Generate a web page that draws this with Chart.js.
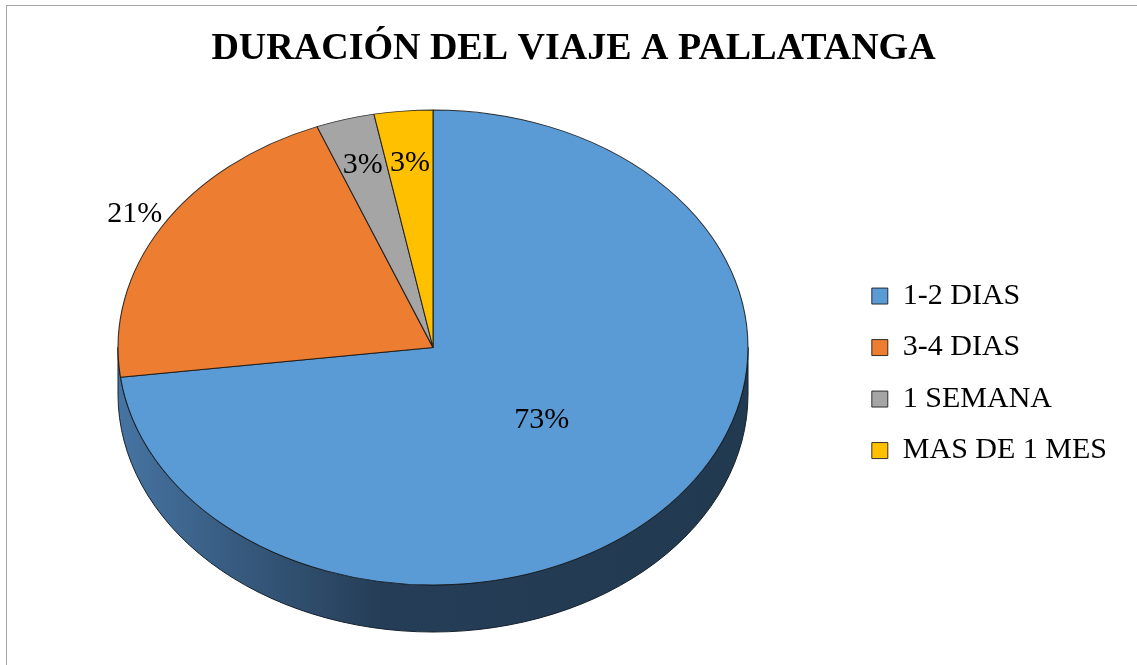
<!DOCTYPE html>
<html><head><meta charset="utf-8">
<script src="https://cdn.jsdelivr.net/npm/chart.js@4"></script>
<style>
html,body{margin:0;padding:0;background:#fff;}
#wrap{position:relative;width:1137px;height:665px;overflow:hidden;background:#fff;}
#frame{position:absolute;left:6px;top:5px;width:1300px;height:900px;border:1px solid #a6a6a6;box-sizing:border-box;}
#c{position:absolute;left:0;top:0;}
</style></head><body>
<div id="wrap"><div id="frame"></div><canvas id="c" width="1137" height="665"></canvas></div>
<script>
const categories = ['1-2 DIAS', '3-4 DIAS', '1 SEMANA', 'MAS DE 1 MES'];
const percentages = [73, 21, 3, 3];
const sliceColors = ['#5B9BD5', '#ED7D31', '#A5A5A5', '#FFC000'];
const chartTitle = 'DURACIÓN DEL VIAJE A PALLATANGA';

// presentation of the tilted (3D-looking) pie
const ELL = {cx: 433, cy: 347.5, rx: 315, ry: 237.5, depth: 47};
const labelRadius = [0.46, 1.1, 0.8, 0.78];
const SERIF = "'Liberation Serif', 'Times New Roman', serif";

const pie3d = {
  id: 'pie3d',
  beforeDatasetsDraw(chart) {
    const ctx = chart.ctx;
    const el = chart.getDatasetMeta(0).data[0];
    const r = el.outerRadius;
    const sx = ELL.rx / r, sy = ELL.ry / r;
    ctx.save();
    const g = ctx.createLinearGradient(ELL.cx - ELL.rx, 0, ELL.cx + ELL.rx, 0);
    g.addColorStop(0, '#4674a2');
    g.addColorStop(0.2, '#36597d');
    g.addColorStop(0.42, '#253d56');
    g.addColorStop(1, '#223a50');
    ctx.beginPath();
    ctx.ellipse(ELL.cx, ELL.cy, ELL.rx, ELL.ry, 0, 0, Math.PI);
    ctx.ellipse(ELL.cx, ELL.cy + ELL.depth, ELL.rx, ELL.ry, 0, Math.PI, 0, true);
    ctx.closePath();
    ctx.fillStyle = g;
    ctx.fill();
    ctx.strokeStyle = '#15212d';
    ctx.lineWidth = 1;
    ctx.stroke();
    ctx.restore();
    ctx.save();
    ctx.translate(ELL.cx, ELL.cy);
    ctx.scale(sx, sy);
    ctx.translate(-el.x, -el.y);
  },
  afterDatasetsDraw(chart) {
    const ctx = chart.ctx;
    ctx.restore();
    const meta = chart.getDatasetMeta(0);
    const data = chart.data.datasets[0].data;
    const total = data.reduce((a, b) => a + b, 0);
    ctx.save();
    ctx.font = '30px ' + SERIF;
    ctx.fillStyle = '#000';
    ctx.textAlign = 'center';
    ctx.textBaseline = 'middle';
    meta.data.forEach((el, i) => {
      const mid = (el.startAngle + el.endAngle) / 2;
      const f = labelRadius[i];
      const tx = ELL.cx + Math.cos(mid) * ELL.rx * f;
      const ty = ELL.cy + Math.sin(mid) * ELL.ry * f;
      ctx.fillText(Math.round(data[i] / total * 100) + '%', tx, ty);
    });
    ctx.restore();
  }
};

new Chart(document.getElementById('c'), {
  type: 'pie',
  data: {
    labels: categories,
    datasets: [{
      data: percentages,
      backgroundColor: sliceColors,
      borderColor: 'rgba(20,20,20,0.85)',
      borderWidth: 1,
      clip: false
    }]
  },
  options: {
    responsive: false,
    animation: false,
    layout: {padding: {left: 30, right: 20}},
    plugins: {
      title: {
        display: true,
        text: chartTitle,
        color: '#000',
        font: {family: SERIF, size: 38, weight: 'bold'},
        padding: {top: 26, bottom: 10}
      },
      legend: {
        position: 'right',
        fullSize: false,
        labels: {
          color: '#000',
          font: {family: SERIF, size: 30},
          boxWidth: 16,
          boxHeight: 16,
          padding: 21.5
        }
      },
      tooltip: {enabled: false}
    }
  },
  plugins: [pie3d]
});
</script>
</body></html>
